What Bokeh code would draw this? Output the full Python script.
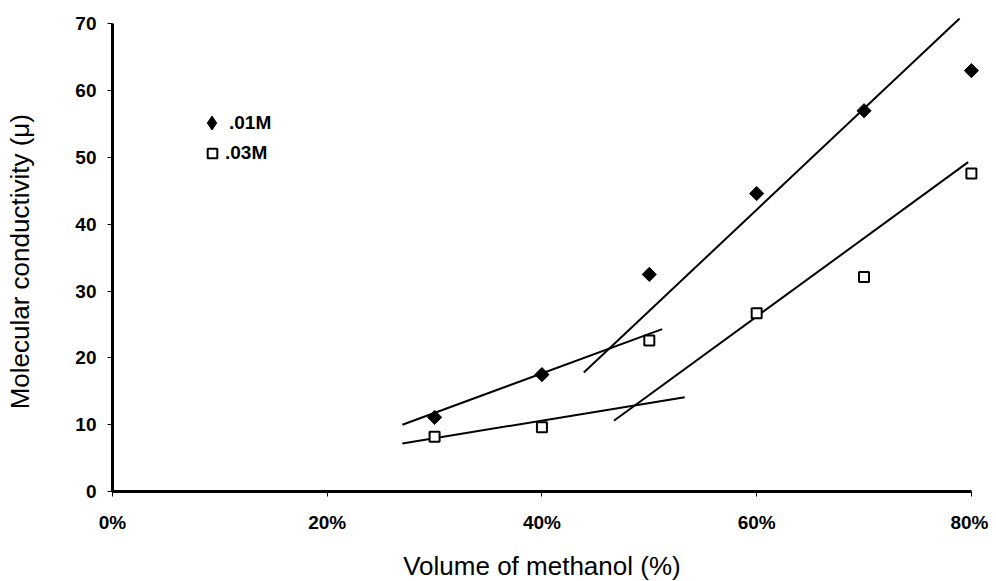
import math
from bokeh.plotting import figure
from bokeh.models import (Range1d, FixedTicker, PrintfTickFormatter, Legend, LegendItem,
                          ColumnDataSource, Label)
from bokeh.embed import file_html
from bokeh.resources import INLINE

# Data: volume of methanol (%) vs molecular conductivity
methanol = [30, 40, 50, 60, 70, 80]
cond_01M = [11.1, 17.5, 32.5, 44.6, 57.0, 63.0]
cond_03M = [8.2, 9.6, 22.6, 26.7, 32.1, 47.6]

# Trend line segments (x from, x to, y from, y to)
trend_x0 = [27.0, 27.0, 43.9, 46.7]
trend_x1 = [51.2, 53.3, 78.9, 79.7]
trend_y0 = [10.0, 7.2, 17.8, 10.6]
trend_y1 = [24.3, 14.1, 70.8, 49.3]

x_ticks = [0, 20, 40, 60, 80]
y_ticks = [0, 10, 20, 30, 40, 50, 60, 70]
x_title = "Volume of methanol (%)"
y_title = "Molecular conductivity (\u03bc)"

FONT = "Liberation Sans"

p = figure(width=988, height=581, output_backend="svg", toolbar_location=None,
           x_range=Range1d(0, 81.5), y_range=Range1d(0, 72),
           min_border_left=112, min_border_right=1, min_border_top=10, min_border_bottom=90)
p.outline_line_color = None
p.xgrid.visible = False
p.ygrid.visible = False

src_t = ColumnDataSource(dict(x0=trend_x0, x1=trend_x1, y0=trend_y0, y1=trend_y1))
p.segment(x0="x0", y0="y0", x1="x1", y1="y1", source=src_t, line_color="black", line_width=2)

r1 = p.scatter(methanol, cond_01M, marker="square", size=10, angle=math.pi / 4,
               fill_color="black", line_color="black", line_width=1)
r2 = p.scatter(methanol, cond_03M, marker="square", size=10,
               fill_color="white", line_color="black", line_width=2)
# legend-only glyph (not drawn: NaN position) so the legend shows a diamond
r1_leg = p.scatter(x=[float("nan")], y=[float("nan")], marker="diamond", size=15,
                   fill_color="black", line_color="black", line_width=1)

for ax in (p.xaxis[0], p.yaxis[0]):
    ax.axis_line_width = 3
    ax.axis_line_color = "black"
    ax.major_tick_out = 5
    ax.major_tick_in = 0
    ax.major_tick_line_width = 1
    ax.minor_tick_out = 0
    ax.minor_tick_in = 0
    ax.major_label_text_font = FONT
    ax.major_label_text_font_style = "bold"
    ax.major_label_text_font_size = "19px"
    ax.major_label_text_color = "black"

p.xaxis.bounds = (0, 80)
p.yaxis.bounds = (0, 70)
p.xaxis.ticker = FixedTicker(ticks=x_ticks)
p.yaxis.ticker = FixedTicker(ticks=y_ticks)
p.xaxis.formatter = PrintfTickFormatter(format="%d%%")
p.xaxis.major_label_standoff = 15
p.yaxis.major_label_standoff = 11

# axis titles as labels in the side panels, centred on the drawn axis extent
p.add_layout(Label(x=40, y=0, x_units="data", y_units="screen", text=x_title,
                   text_align="center", text_baseline="middle", text_font=FONT,
                   text_font_size="26px", text_color="black"), "below")
p.add_layout(Label(x=-23, y=34.4, x_units="screen", y_units="data", text=y_title,
                   angle=math.pi / 2, text_align="center", text_baseline="middle",
                   text_font=FONT, text_font_size="26px", text_color="black"), "left")

common = dict(border_line_color=None, background_fill_alpha=0, padding=0, margin=0,
              label_text_font=FONT, label_text_font_style="bold", label_text_font_size="19px",
              label_text_color="black")
leg_a = Legend(items=[LegendItem(label=".01M", renderers=[r1_leg])],
               location=(82, 351), glyph_width=35, glyph_height=35, label_height=35,
               label_standoff=0, **common)
leg_b = Legend(items=[LegendItem(label=".03M", renderers=[r2])],
               location=(88, 326), glyph_width=24, glyph_height=24, label_height=24,
               label_standoff=1, **common)
p.add_layout(leg_a, "center")
p.add_layout(leg_b, "center")

open("out.html", "w").write(file_html(p, INLINE))
